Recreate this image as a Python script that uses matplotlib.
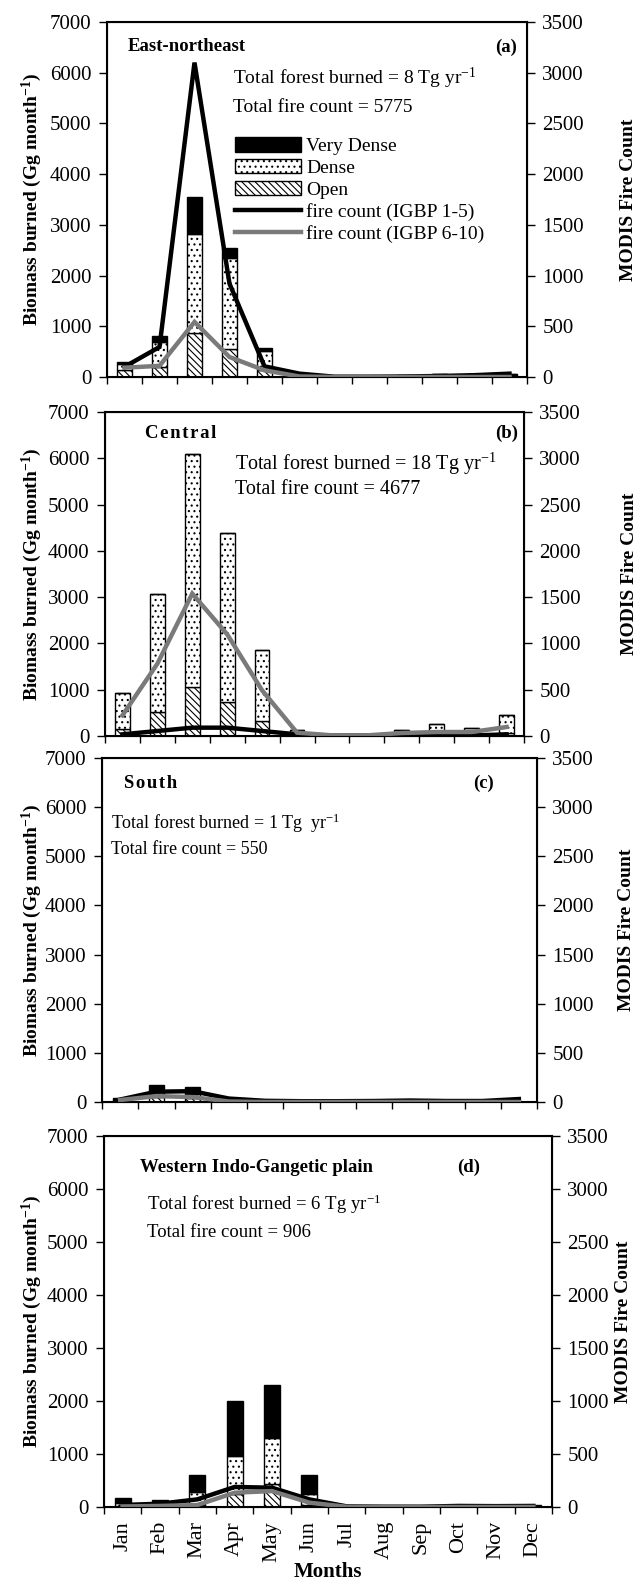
import numpy as np
import matplotlib
matplotlib.use('Agg')
import matplotlib.pyplot as plt
from matplotlib.patches import Patch
from matplotlib.lines import Line2D

plt.rcParams['font.family'] = ['Liberation Serif', 'DejaVu Serif']
plt.rcParams['mathtext.default'] = 'regular'
plt.rcParams['hatch.linewidth'] = 0.8

months = ['Jan', 'Feb', 'Mar', 'Apr', 'May', 'Jun',
          'Jul', 'Aug', 'Sep', 'Oct', 'Nov', 'Dec']

# (a) East-northeast
open_a = [130, 200, 870, 560, 145, 10, 0, 0, 15, 30, 30, 30]
dense_a = [120, 500, 1950, 1780, 360, 20, 0, 0, 10, 25, 25, 25]
vdense_a = [50, 100, 730, 210, 65, 0, 0, 0, 5, 10, 10, 10]
fc15_a = [100, 296, 3100, 920, 105, 33, 3, 3, 5, 10, 18, 33]
fc610_a = [92, 110, 543, 197, 66, 5, 0, 0, 0, 0, 0, 0]

# (b) Central
open_b = [160, 520, 1060, 740, 320, 30, 0, 0, 20, 30, 20, 60]
dense_b = [770, 2540, 5040, 3650, 1530, 110, 0, 0, 120, 236, 160, 386]
vdense_b = [0, 0, 0, 0, 0, 0, 0, 0, 0, 0, 0, 0]
fc15_b = [18, 54, 90, 90, 54, 18, 5, 5, 5, 5, 5, 18]
fc610_b = [223, 781, 1538, 1098, 493, 36, 7, 7, 32, 43, 43, 97]

# (c) South
open_c = [40, 100, 90, 5, 0, 0, 0, 0, 0, 0, 0, 0]
dense_c = [20, 110, 70, 5, 0, 0, 0, 0, 0, 0, 0, 0]
vdense_c = [30, 130, 140, 10, 0, 0, 0, 0, 5, 0, 0, 10]
fc15_c = [25, 105, 110, 35, 12, 8, 8, 10, 15, 10, 10, 30]
fc610_c = [20, 60, 50, 5, 0, 0, 0, 0, 0, 0, 0, 0]

# (d) Western Indo-Gangetic plain
open_d = [20, 10, 40, 240, 430, 40, 0, 0, 0, 0, 0, 0]
dense_d = [50, 20, 240, 720, 870, 200, 0, 0, 0, 0, 0, 0]
vdense_d = [100, 100, 320, 1040, 1000, 360, 0, 0, 0, 40, 30, 40]
fc15_d = [19, 31, 72, 189, 182, 72, 6, 3, 3, 10, 8, 10]
fc610_d = [5, 10, 19, 135, 150, 41, 2, 0, 0, 0, 0, 0]

HS = '\u200a'  # hair space, the original spaces out a couple of titles
titles = ['East-northeast', HS.join('Central'), HS.join('South'),
          'Western Indo-Gangetic plain']
tags = ['(a)', '(b)', '(c)', '(d)']
burned = ['Total forest burned = 8 Tg yr$^{-1}$',
          'Total forest burned = 18 Tg yr$^{-1}$',
          'Total forest burned = 1 Tg  yr$^{-1}$',
          'Total forest burned = 6 Tg yr$^{-1}$']
counts = ['Total fire count = 5775', 'Total fire count = 4677',
          'Total fire count = 550', 'Total fire count = 906']

FIG_W, FIG_H = 639, 1585
fig = plt.figure(figsize=(FIG_W / 100, FIG_H / 100), dpi=100)

# panel boxes in pixels: left, top, right, bottom
boxes = [(107, 22, 527, 377), (105, 412, 524, 736),
         (102, 758, 537, 1102), (104, 1136, 552, 1507)]
# text positions (axes fraction)
title_xy = [(0.05, 0.93), (0.095, 0.935), (0.05, 0.925), (0.08, 0.915)]
tag_xy = [(0.975, 0.93), (0.985, 0.935), (0.90, 0.925), (0.84, 0.915)]
txt_xy = [(0.30, 0.84, 0.76), (0.31, 0.84, 0.76), (0.02, 0.81, 0.735), (0.095, 0.815, 0.74)]
txt_size = [14, 14.5, 13, 13.5]
rlabel_x = [620, 621, 618, 615]

GRAY = '#7a7a7a'
DOTS = '...'
DIAG = '\\' * 5
x = np.arange(12)
w = 0.42

panels = [(open_a, dense_a, vdense_a, fc15_a, fc610_a),
          (open_b, dense_b, vdense_b, fc15_b, fc610_b),
          (open_c, dense_c, vdense_c, fc15_c, fc610_c),
          (open_d, dense_d, vdense_d, fc15_d, fc610_d)]

for i, (op, de, vd, f15, f610) in enumerate(panels):
    l, t, r, b = boxes[i]
    ax = fig.add_axes([l / FIG_W, 1 - b / FIG_H, (r - l) / FIG_W, (b - t) / FIG_H])
    op, de, vd = np.array(op), np.array(de), np.array(vd)
    ax.bar(x, op, w, color='white', edgecolor='black', hatch=DIAG, linewidth=1)
    ax.bar(x, de, w, bottom=op, color='white', edgecolor='black', hatch=DOTS, linewidth=1)
    ax.bar(x, vd, w, bottom=op + de, color='black', edgecolor='black', linewidth=1)
    ax.set_ylim(0, 7000)
    ax.set_yticks(np.arange(0, 7001, 1000))
    ax.set_xlim(-0.5, 11.5)
    ax.set_xticks(x)
    ax.set_xticks(np.arange(-0.5, 12, 1), minor=True)
    ax.tick_params(axis='x', which='major', length=0, labelsize=16, pad=10)
    ax.tick_params(axis='x', which='minor', direction='out', length=5, width=1)
    ax.tick_params(axis='y', direction='out', length=6, width=1, labelsize=15, pad=5)
    if i == 3:
        ax.set_xticklabels(months, rotation=90)
        ax.set_xlabel('Months', fontsize=15, fontweight='bold', labelpad=0)
    else:
        ax.set_xticklabels([])
    ax.set_ylabel('Biomass burned (Gg month$^{-1}$)', fontsize=14, fontweight='bold')
    ax.yaxis.set_label_coords((44 - l) / (r - l), 0.5)
    for s in ax.spines.values():
        s.set_linewidth(1.5)

    ax2 = ax.twinx()
    ax2.plot(x, f15, color='black', lw=3.2, solid_joinstyle='miter')
    ax2.plot(x, f610, color=GRAY, lw=3.2, solid_joinstyle='miter')
    ax2.set_ylim(0, 3500)
    ax2.set_yticks(np.arange(0, 3501, 500))
    ax2.tick_params(axis='y', direction='out', length=6, width=1, labelsize=15, pad=5)
    ax2.set_ylabel('MODIS Fire Count', fontsize=14, fontweight='bold')
    ax2.yaxis.set_label_coords((rlabel_x[i] - l) / (r - l), 0.5)

    ax2.text(title_xy[i][0], title_xy[i][1], titles[i], transform=ax.transAxes,
             fontsize=13.5, fontweight='bold', va='center', ha='left')
    ax2.text(tag_xy[i][0], tag_xy[i][1], tags[i], transform=ax.transAxes,
             fontsize=13.5, fontweight='bold', va='center', ha='right')
    ax2.text(txt_xy[i][0], txt_xy[i][1], burned[i], transform=ax.transAxes,
             fontsize=txt_size[i], va='center', ha='left')
    ax2.text(txt_xy[i][0], txt_xy[i][2], counts[i], transform=ax.transAxes,
             fontsize=txt_size[i], va='center', ha='left')

    if i == 0:
        handles = [Patch(facecolor='black', edgecolor='black'),
                   Patch(facecolor='white', edgecolor='black', hatch=DOTS),
                   Patch(facecolor='white', edgecolor='black', hatch=DIAG),
                   Line2D([], [], color='black', lw=3.2),
                   Line2D([], [], color=GRAY, lw=3.2)]
        labels = ['Very Dense', 'Dense', 'Open', 'fire count (IGBP 1-5)',
                  'fire count (IGBP 6-10)']
        ax2.legend(handles, labels, loc='upper left', bbox_to_anchor=(0.305, 0.675),
                   frameon=False, fontsize=14, handlelength=3.4, handleheight=0.75,
                   handletextpad=0.25, labelspacing=0.2, borderpad=0, borderaxespad=0)

fig.savefig('out.png', dpi=100)
